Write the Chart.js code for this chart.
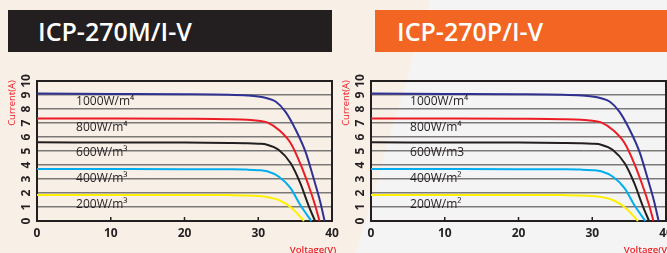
<!DOCTYPE html>
<html><head><meta charset="utf-8">
<script src="https://cdn.jsdelivr.net/npm/chart.js@4"></script>
<style>
html,body{margin:0;padding:0;width:667px;height:253px;overflow:hidden;background:#f8f0e7;font-family:'Open Sans',sans-serif}
#bg2{position:absolute;left:0;top:0;width:667px;height:253px;background:#f4f4f4;clip-path:polygon(430px 0,667px 0,667px 253px,356px 253px)}
.hdr{position:absolute;top:10px;height:42px;color:#fff;font-family:'Open Sans',sans-serif;font-size:25px;font-weight:600;line-height:42px;box-sizing:border-box;white-space:nowrap}
#h1{left:8px;width:324px;background:#231f20;padding-left:30px}
#h2{left:375px;width:292px;background:#f26522;padding-left:22px}
canvas{position:absolute;top:60px}
#c1{left:0}
#c2{left:334px}
</style></head>
<body>
<div id="bg2"></div>
<div class="hdr" id="h1">ICP-270M/I-V</div>
<div class="hdr" id="h2">ICP-270P/I-V</div>
<canvas id="c1" width="340" height="193"></canvas>
<canvas id="c2" width="333" height="193"></canvas>
<script>
// ---- data ----
const voltage1000 = [0, 10, 20, 26, 28.5, 30.0, 31.2, 32.4, 33.7, 35.0, 36.4, 37.5, 38.4, 39.0];
const current1000 = [9.1, 9.08, 9.06, 9.02, 8.97, 8.9, 8.77, 8.52, 7.8, 6.6, 4.95, 3.05, 1.38, 0];
const voltage800 = [0, 10, 20, 26, 28.5, 30.0, 31.2, 32.8, 34.4, 35.7, 36.8, 37.7, 38.3];
const current800 = [7.33, 7.32, 7.3, 7.27, 7.23, 7.16, 7.04, 6.5, 5.55, 4.1, 2.57, 1.14, 0];
const voltage600 = [0, 10, 20, 26, 28.5, 30.0, 31.2, 32.8, 34.4, 35.7, 36.8, 37.7];
const current600 = [5.62, 5.61, 5.6, 5.58, 5.56, 5.52, 5.45, 5.07, 4.12, 2.7, 1.14, 0];
const voltage400 = [0, 10, 20, 26, 28.5, 30.0, 31.2, 32.8, 34.4, 35.7, 37.2];
const current400 = [3.72, 3.71, 3.7, 3.69, 3.67, 3.63, 3.55, 3.16, 2.33, 1.14, 0];
const voltage200 = [0, 10, 20, 26, 28.5, 30.0, 31.2, 32.8, 34.6, 36.2];
const current200 = [1.86, 1.86, 1.86, 1.85, 1.83, 1.79, 1.72, 1.5, 0.9, 0];

const seriesLabelsM = ['1000W/m⁴', '800W/m⁴', '600W/m³', '400W/m³', '200W/m³'];
const seriesLabelsP = ['1000W/m⁴', '800W/m⁴', '600W/m3', '400W/m²', '200W/m²'];
const xTicks = [0, 10, 20, 30, 40];
const yTicks = [0, 1, 2, 3, 4, 5, 6, 7, 8, 9, 10];
const xTitle = 'Voltage(V)';
const yTitle = 'Current(A)';
// text anchor positions for the irradiance labels (data units)
const labelAnchorX = 5.3;
const labelAnchorY = [8.52, 6.7, 4.88, 3.05, 1.14];

const colors = ['#2e3192', '#ed1c24', '#231f20', '#00aeef', '#fff000'];
const seriesV = [voltage1000, voltage800, voltage600, voltage400, voltage200];
const seriesI = [current1000, current800, current600, current400, current200];

const INK = '#231f20';
const FONT = "'Open Sans', sans-serif";

function makeDecor(labels) {
  return {
    id: 'decor',
    beforeDatasetsDraw(chart) {
      const {ctx, chartArea: a} = chart;
      ctx.save();
      ctx.strokeStyle = INK; ctx.lineWidth = 2;
      ctx.strokeRect(a.left, a.top, a.right - a.left, a.bottom - a.top);
      ctx.restore();
    },
    afterDraw(chart) {
      const {ctx, chartArea: a, scales: {x, y}} = chart;
      ctx.save();
      // inner tick marks
      ctx.strokeStyle = INK; ctx.lineWidth = 1.5;
      xTicks.slice(1, -1).forEach(v => {
        const px = x.getPixelForValue(v);
        ctx.beginPath(); ctx.moveTo(px, a.bottom); ctx.lineTo(px, a.bottom - 4); ctx.stroke();
      });
      // x tick labels
      ctx.fillStyle = INK; ctx.font = 'bold 12px ' + FONT;
      ctx.textAlign = 'center'; ctx.textBaseline = 'middle';
      xTicks.forEach(v => ctx.fillText(String(v), x.getPixelForValue(v), a.bottom + 13));
      // y tick labels (rotated)
      yTicks.forEach(v => {
        ctx.save();
        ctx.translate(a.left - 10, y.getPixelForValue(v));
        ctx.rotate(-Math.PI / 2);
        ctx.fillText(String(v), 0, 0);
        ctx.restore();
      });
      // axis titles
      ctx.fillStyle = '#ed1c24';
      ctx.font = '9.5px ' + FONT;
      ctx.save();
      ctx.translate(a.left - 25, a.top + 22);
      ctx.rotate(-Math.PI / 2);
      ctx.textAlign = 'center';
      ctx.fillText(yTitle, 0, 0);
      ctx.restore();
      ctx.textAlign = 'center';
      ctx.font = '600 9.5px ' + FONT;
      ctx.fillText(xTitle, a.right - 19, a.bottom + 29);
      // irradiance labels
      ctx.fillStyle = INK;
      ctx.font = '12px ' + FONT;
      ctx.textAlign = 'left';
      labels.forEach((t, i) => ctx.fillText(t, x.getPixelForValue(labelAnchorX), y.getPixelForValue(labelAnchorY[i])));
      ctx.restore();
    }
  };
}

function buildChart(id, labels, padRight) {
  const datasets = seriesV.map((vs, k) => ({
    label: labels[k],
    data: vs.map((v, j) => ({x: v, y: seriesI[k][j]})),
    borderColor: colors[k],
    borderWidth: 2,
    pointRadius: 0,
    fill: false,
    showLine: true,
    cubicInterpolationMode: 'monotone',
    clip: false
  }));
  return new Chart(document.getElementById(id), {
    type: 'scatter',
    data: {datasets},
    options: {
      responsive: false, animation: false, devicePixelRatio: 1,
      layout: {padding: {top: 21, right: padRight, left: 0, bottom: 0}},
      plugins: {legend: {display: false}, tooltip: {enabled: false}},
      scales: {
        x: {
          type: 'linear', min: 0, max: 40,
          ticks: {display: false, stepSize: 10},
          grid: {display: false}, border: {display: false},
          afterFit: s => { s.height = 32; }
        },
        y: {
          type: 'linear', min: 0, max: 10,
          ticks: {display: false, stepSize: 1},
          grid: {
            drawTicks: false, lineWidth: 1.5,
            color: c => (c.tick && (c.tick.value === 0 || c.tick.value === 10)) ? 'rgba(0,0,0,0)' : '#7d7878'
          },
          border: {display: false},
          afterFit: s => { s.width = 37; }
        }
      }
    },
    plugins: [makeDecor(labels)]
  });
}

buildChart('c1', seriesLabelsM, 8);
buildChart('c2', seriesLabelsP, 1);
</script>
</body></html>
